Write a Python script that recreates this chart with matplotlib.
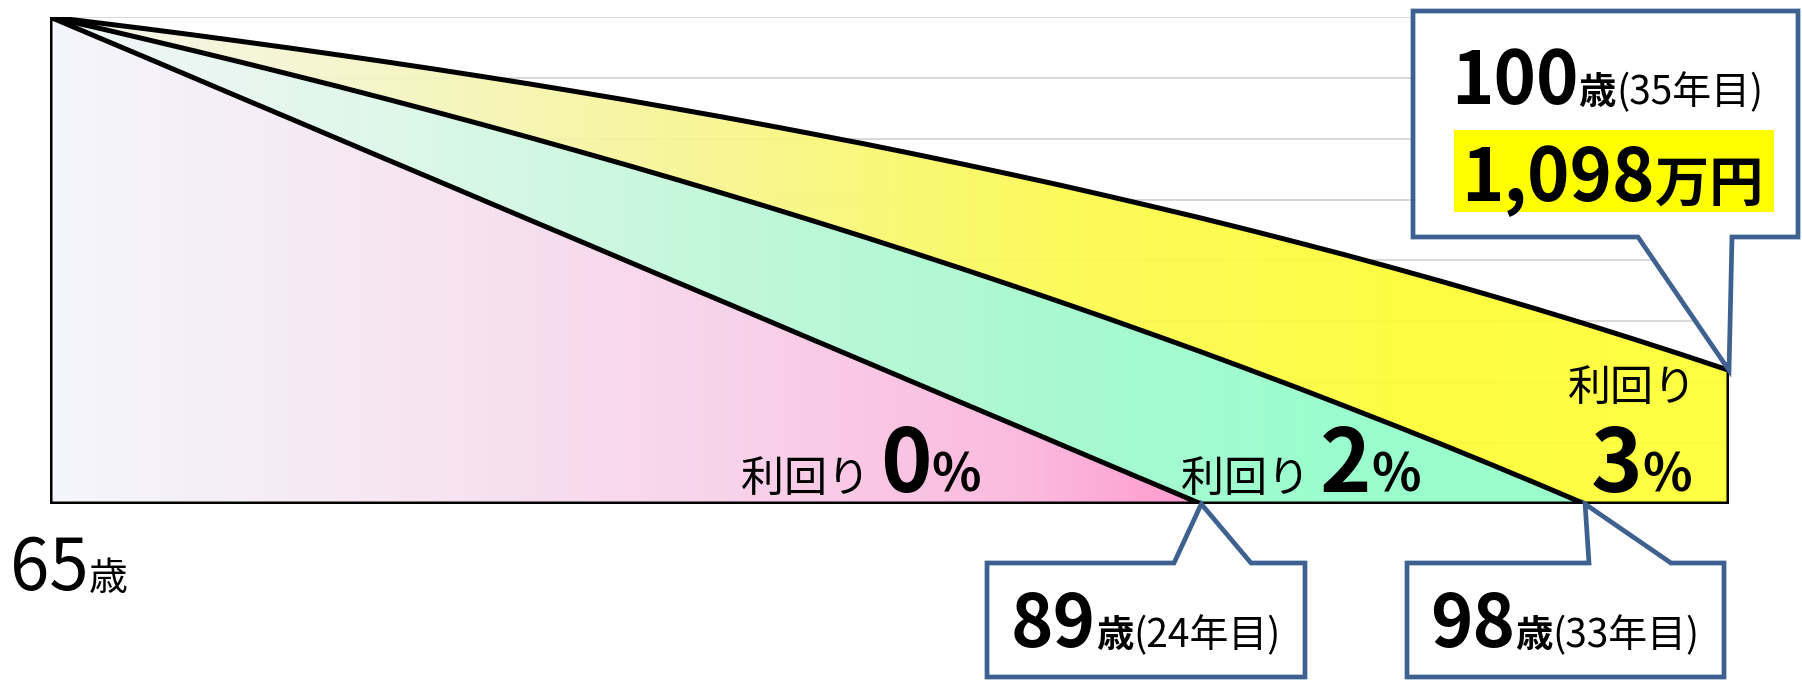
import numpy as np
import matplotlib
matplotlib.use("Agg")
import matplotlib.pyplot as plt
from matplotlib.colors import LinearSegmentedColormap
from matplotlib.patches import Polygon, Rectangle
from matplotlib.transforms import IdentityTransform

plt.rcParams['font.family'] = ['Noto Sans CJK JP', 'DejaVu Sans']

W, H = 1802, 680

# 65歳スタート、1年ごとの残高(万円)
start_age = 65
end_age = 100
bal_0 = [4000, 3833, 3667, 3500, 3333, 3167, 3000, 2833, 2667, 2500, 2333, 2167,
         2000, 1833, 1667, 1500, 1333, 1167, 1000, 833, 667, 500, 333, 167, 0]
bal_2 = [4000, 3910, 3817, 3723, 3627, 3529, 3430, 3328, 3224, 3118, 3010, 2899,
         2787, 2672, 2555, 2436, 2314, 2190, 2063, 1934, 1802, 1668, 1531, 1391,
         1249, 1103, 955, 803, 649, 492, 331, 167, 0]
bal_3 = [4000, 3952, 3903, 3852, 3799, 3745, 3689, 3632, 3573, 3512, 3450, 3385,
         3319, 3250, 3180, 3107, 3032, 2956, 2876, 2794, 2710, 2624, 2534, 2442,
         2348, 2250, 2149, 2046, 1939, 1829, 1716, 1600, 1480, 1356, 1229, 1098]
grid_vals = [500, 1000, 1500, 2000, 2500, 3000, 3500, 4000]

fig = plt.figure(figsize=(W / 100, H / 100), dpi=100)
ax = fig.add_axes([50 / W, 176 / H, (1729 - 50) / W, (504 - 17) / H])
n_years = end_age - start_age
ax.set_xlim(0, n_years)
ax.set_ylim(0, 4000)
ax.axis('off')

for g in grid_vals:
    ax.plot([0, n_years], [g, g], color='#D6D6D6', lw=1.3, zorder=0)


def area(vals, stops, z, alpha=1.0):
    x = np.arange(len(vals))
    verts = [(0, 0)] + list(zip(x, vals)) + [(x[-1], 0)]
    poly = Polygon(verts, closed=True, transform=ax.transData, facecolor='none',
                   edgecolor='black', lw=3.6, joinstyle='miter', zorder=z + 0.5)
    cmap = LinearSegmentedColormap.from_list('grad', stops)
    im = ax.imshow(np.linspace(0, 1, 256).reshape(1, -1), cmap=cmap, aspect='auto',
                   extent=[0, x[-1], 0, max(vals)], origin='lower', zorder=z,
                   alpha=alpha, interpolation='bilinear')
    im.set_clip_path(poly)
    ax.add_patch(poly)


yellow = [(0, '#F5F6EE'), (0.2, '#F5F5C4'), (0.4, '#F8F68C'), (0.6, '#FBFA50'),
          (0.8, '#FDFC36'), (1, '#FFFF33')]
green = [(0, '#F2F6F8'), (0.2, '#E0F7EB'), (0.43, '#C3F7DA'), (0.66, '#A8F9D0'),
         (0.85, '#9AFECD'), (1, '#99FFCC')]
pink = [(0, '#F4F6FB'), (0.3, '#F6E6F2'), (0.6, '#F8D2EA'), (0.85, '#FBBADE'),
        (1, '#FF9ACE')]

area(bal_3, yellow, 1, alpha=0.93)
area(bal_2, green, 2)
area(bal_0, pink, 3)
ax.set_xlim(0, n_years)
ax.set_ylim(0, 4000)

fig.canvas.draw()
r = fig.canvas.get_renderer()


def rich(px, py, parts, ha='left', z=10):
    # px, py = 画像座標 (左上原点), py はベースライン
    arts, widths = [], []
    for s, size, bold in parts:
        t = fig.text(0, 0, s, fontsize=size, fontweight='bold' if bold else 'normal',
                     transform=IdentityTransform(), va='baseline', ha='left', zorder=z)
        widths.append(t.get_window_extent(r).width)
        arts.append(t)
    x = px - (sum(widths) / 2 if ha == 'center' else 0)
    for t, w in zip(arts, widths):
        t.set_position((x, H - py))
        x += w


def to_img(xv, yv):
    dx, dy = ax.transData.transform((xv, yv))
    return dx, H - dy


def callout(box, base, tip, side):
    x0, y0, x1, y1 = box
    if side == 'top':
        pts = [(x0, y0), (base[0], y0), tip, (base[1], y0), (x1, y0), (x1, y1), (x0, y1)]
    else:
        pts = [(x0, y0), (x1, y0), (x1, y1), (base[1], y1), tip, (base[0], y1), (x0, y1)]
    pts = [(p[0], H - p[1]) for p in pts]
    fig.add_artist(Polygon(pts, closed=True, facecolor='white', edgecolor='#3F6190',
                           lw=3.4, joinstyle='miter', transform=IdentityTransform(), zorder=5))


blue_tip_0 = to_img(len(bal_0) - 1, 0)
blue_tip_2 = to_img(len(bal_2) - 1, 0)
blue_tip_3 = to_img(len(bal_3) - 1, bal_3[-1])

callout((987, 563, 1305, 677), (1174, 1251), blue_tip_0, 'top')
callout((1407, 563, 1724, 677), (1589, 1671), blue_tip_2, 'top')
callout((1413, 11, 1798, 237), (1638, 1732), blue_tip_3, 'bottom')

fig.add_artist(Rectangle((1454, H - 212), 320, 82, facecolor='#FFFF00', edgecolor='none',
                         transform=IdentityTransform(), zorder=6))

rich(10, 590, [('65', 51, False), ('歳', 28, False)])
rich(741, 492, [('利回り ', 31, False), ('0', 63, True), ('%', 37, True)])
rich(1181, 492, [('利回り ', 31, False), ('2', 63, True), ('%', 37, True)])
rich(1632, 401, [('利回り', 31, False)], ha='center')
rich(1641, 492, [('3', 63, True), ('%', 37, True)], ha='center')

rich(1146, 647, [('89', 52, True), ('歳', 27, True), ('(24年目)', 28, False)], ha='center')
rich(1565, 647, [('98', 52, True), ('歳', 27, True), ('(33年目)', 28, False)], ha='center')
rich(1607, 104, [('100', 52, True), ('歳', 27, True), ('(35年目)', 28, False)], ha='center')
rich(1612, 201, [(f'{bal_3[-1]:,}', 52, True), ('万円', 39, True)], ha='center')

fig.savefig('out.png', dpi=100)
